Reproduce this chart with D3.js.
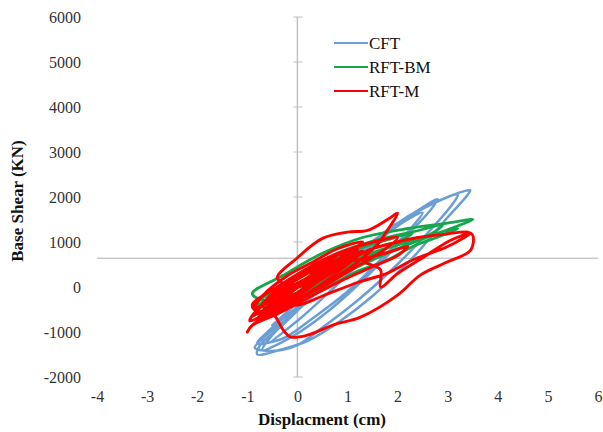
<!DOCTYPE html>
<html><head><meta charset="utf-8">
<script src="https://cdn.jsdelivr.net/npm/d3@7"></script>
<style>body{margin:0;background:#fff;}svg{display:block;} text{font-family:"Liberation Serif","DejaVu Serif",serif;}</style>
</head><body>
<svg id="c" width="603" height="432"></svg>
<script>
const xTicks = [-4,-3,-2,-1,0,1,2,3,4,5,6];
const yTicks = [-2000,-1000,0,1000,2000,3000,4000,5000,6000];
const seriesNames = ["CFT","RFT-BM","RFT-M"];

// CFT hysteresis path [displacement cm, base shear kN]
const cftData = [
 [-0.2,-300],[0.3,150],[0.8,550],[1.1,800],[0.9,550],[0.4,50],[-0.1,-450],[-0.5,-850],
 [-0.3,-650],[0.3,0],[1.0,650],[1.6,1100],[1.95,1400],[1.8,1200],[1.3,600],[0.6,-150],[0.0,-750],[-0.6,-1250],
 [-0.45,-1000],[0.2,-250],[1.0,550],[1.8,1250],[2.4,1700],[2.8,1950],[2.65,1700],[2.1,1050],[1.4,250],[0.6,-550],[-0.1,-1100],[-0.7,-1400],
 [-0.6,-1200],[0.0,-500],[0.8,350],[1.6,1100],[2.4,1700],[3.0,2000],[3.3,2120],[3.45,2150],[3.4,2050],[3.0,1550],[2.3,650],[1.5,-200],[0.8,-800],[0.2,-1200],[-0.3,-1380],[-0.8,-1500],
 [-0.75,-1300],[-0.3,-850],[0.4,-100],[1.2,700],[2.0,1400],[2.7,1850],[3.2,2050],[3.1,1850],[2.6,1200],[1.9,400],[1.2,-300],[0.5,-900],[0.0,-1290],[-0.5,-1420],[-0.85,-1350],
 [-0.7,-1150],[-0.2,-700],[0.5,0],[1.3,750],[2.2,1500],[2.5,1650],[2.3,1350],[1.7,650],[1.0,-100],[0.3,-700],[-0.3,-1150],[-0.8,-1250],
 [-0.55,-950],[0.1,-350],[0.9,450],[1.7,1150],[2.2,1550]
];

// RFT-BM hysteresis path
const rftbmData = [
 [-0.3,-100],[0.3,250],[1.0,600],[1.5,800],[1.2,600],[0.5,150],[-0.2,-250],[-0.7,-400],
 [-0.5,-250],[0.2,200],[1.0,750],[1.8,1050],[2.3,1200],[2.1,1050],[1.4,650],[0.6,150],[-0.2,-300],[-0.9,-450],
 [-0.7,-250],[0.0,250],[0.8,750],[1.6,1050],[2.4,1250],[2.9,1380],[2.7,1200],[2.0,850],[1.2,450],[0.4,0],[-0.4,-350],[-0.9,-150],
 [-0.3,250],[0.5,750],[1.3,1100],[2.2,1300],[3.0,1420],[3.5,1500],[3.3,1400],[2.7,1150],[2.0,850],[1.2,450],[0.4,50],[-0.3,-250],[-0.9,-450],
 [-0.6,-300],[0.1,100],[0.9,550],[1.6,800],[2.2,1000],[2.8,1200],[3.2,1300],[2.9,1150],[2.3,900],[1.8,600],[1.2,350],[0.5,-50],[-0.2,-350]
];

// RFT-M hysteresis path
const rftmData = [
 [-0.1,0],[0.3,250],[0.7,450],[1.0,600],[0.8,400],[0.3,50],[-0.2,-300],[-0.6,-500],
 [-0.4,-300],[0.1,100],[0.6,400],[1.2,700],[1.5,850],[1.2,550],[0.6,100],[0.0,-300],[-0.5,-600],[-0.8,-700],
 [-0.6,-500],[-0.1,-100],[0.4,300],[0.9,600],[1.3,800],[1.0,500],[0.4,0],[-0.2,-400],[-0.7,-650],[-0.95,-750],
 [-0.8,-500],[-0.3,-50],[0.2,300],[0.7,550],[1.1,750],[0.8,450],[0.2,-50],[-0.3,-400],[-0.8,-550],
 [-0.9,-400],[-0.4,0],[0.1,350],[0.6,650],[1.2,900],[1.7,1050],[2.0,1100],[1.7,800],[1.1,400],[0.5,0],[0.0,-250],[-0.5,-550],
 [-0.7,-400],[-0.3,-100],[0.2,200],[0.8,500],[1.4,650],[1.9,800],[2.2,900],[2.0,700],[1.5,450],[0.9,150],[0.2,-250],[-0.4,-600],[-0.9,-850],[-1.0,-1000],
 [-0.9,-850],[-0.6,-650],[-0.48,-620],[-0.28,-960],[-0.14,-1110],[0.2,-1070],[0.72,-840],[1.26,-670],[2.0,-180],[2.46,270],[3.0,560],[3.46,820],[3.5,1150],[3.4,1220],[3.0,1180],[2.4,1100],[2.0,1000],[1.5,850],[1.0,600],[0.5,300],[0.0,0],
 [-0.4,200],[0.0,650],[0.5,1080],[1.0,1220],[1.4,1260],[1.8,1500],[2.0,1640],[1.85,1350],[1.6,950],[1.3,600],[1.66,380],[1.66,0],[2.0,300],[2.5,650],[3.06,1040],[3.46,1200],[3.0,900],[2.3,600],[1.8,310],[1.2,100],[0.5,-200],[0.0,-400],
 [-0.5,-300],[-0.2,100],[0.3,400],[0.8,700],[1.2,850],[0.9,600],[0.4,200],[-0.1,-200],[-0.6,-450],[-0.3,-200],[0.2,150],[0.7,350],[0.3,50],[-0.3,-300],[-0.7,-550],
 [-0.5,-350],[0.0,0],[0.5,350],[1.0,650],[0.6,300],[0.1,-100],[-0.4,-450],[-0.8,-600],[-0.6,-250],[-0.1,150],[0.4,500],[0.9,800],[0.5,450],[0.0,50],[-0.5,-300],[-0.85,-450],
 [-0.7,-200],[-0.2,250],[0.3,550],[0.8,850],[1.3,1000],[1.0,750],[0.5,400],[0.0,0],[-0.5,-400],[-0.9,-650]
];

const svg = d3.select("#c");
const x = d3.scaleLinear().domain([-4,6]).range([97,598]);
const y = d3.scaleLinear().domain([-2000,6000]).range([377,17]);
const crossY = 640;
const serif = '"Liberation Serif","DejaVu Serif",serif';
const fmt = d => String(d);

// horizontal axis line
svg.append("line").attr("x1",x(-4)).attr("x2",x(6)).attr("y1",y(crossY)).attr("y2",y(crossY))
  .attr("stroke","#b0b0b0").attr("stroke-width",1);

// vertical axis at x=0 with crossing ticks
const vAxis = svg.append("g").attr("transform",`translate(${x(0)},0)`);
vAxis.append("line").attr("y1",y(6000)).attr("y2",y(-2000)).attr("stroke","#c0c0c0").attr("stroke-width",1.5);
vAxis.selectAll("line.tk").data(yTicks).join("line").attr("class","tk")
  .attr("x1",-4).attr("x2",5).attr("y1",d=>y(d)).attr("y2",d=>y(d)).attr("stroke","#c0c0c0").attr("stroke-width",1);

// y tick labels
const yAx = svg.append("g").attr("transform","translate(81,0)")
  .call(d3.axisLeft(y).tickValues(yTicks).tickSize(0).tickPadding(0).tickFormat(fmt));
yAx.attr("font-family",null);
yAx.select(".domain").remove();
yAx.selectAll("text").style("font-family",serif).attr("font-size",16).attr("fill","#333");

// x tick labels
const xAx = svg.append("g").attr("transform","translate(0,391)")
  .call(d3.axisBottom(x).tickValues(xTicks).tickSize(0).tickPadding(0).tickFormat(fmt));
xAx.attr("font-family",null);
xAx.select(".domain").remove();
xAx.selectAll("text").style("font-family",serif).attr("font-size",16).attr("fill","#333");

// titles
svg.append("text").attr("x",322).attr("y",425).attr("text-anchor","middle")
  .style("font-family",serif).attr("font-weight","bold").attr("font-size",17).attr("fill","#111")
  .text("Displacment (cm)");
svg.append("text").attr("transform","translate(23,201) rotate(-90)").attr("text-anchor","middle")
  .style("font-family",serif).attr("font-weight","bold").attr("font-size",17).attr("fill","#111")
  .text("Base Shear (KN)");

const colors = ["#6a9fd6","#14a84a","#ff0000"];
const widths = [2.5,2.8,2.9];
const allData = [cftData, rftbmData, rftmData];
const line = d3.line().x(d=>x(d[0])).y(d=>y(d[1])).curve(d3.curveCatmullRom.alpha(0.5));
allData.forEach((data,i)=>{
  svg.append("path").datum(data).attr("d",line).attr("fill","none")
    .attr("stroke",colors[i]).attr("stroke-width",widths[i]).attr("stroke-linejoin","round").attr("stroke-linecap","round");
});

// legend
const lg = svg.append("g");
seriesNames.forEach((n,i)=>{
  const yy = 43 + i*24;
  lg.append("line").attr("x1",334).attr("x2",368).attr("y1",yy).attr("y2",yy).attr("stroke",colors[i]).attr("stroke-width",2.2);
  lg.append("text").attr("x",369).attr("y",yy+6).style("font-family",serif).attr("font-size",17).attr("fill","#111").text(n);
});
</script>
</body></html>
